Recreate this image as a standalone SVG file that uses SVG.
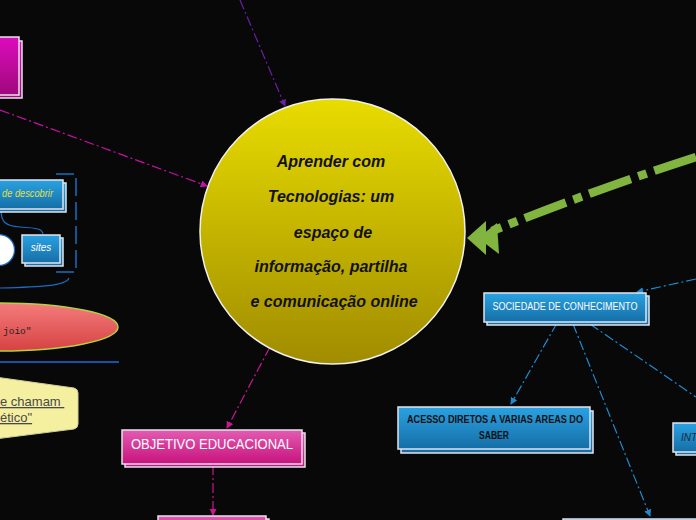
<svg xmlns="http://www.w3.org/2000/svg" width="696" height="520" viewBox="0 0 696 520">
<defs>
<linearGradient id="gYellow" x1="0" y1="0" x2="0" y2="1"><stop offset="0" stop-color="#e8dc00"/><stop offset="1" stop-color="#a08c00"/></linearGradient>
<linearGradient id="gBlue" x1="0" y1="0" x2="0" y2="1"><stop offset="0" stop-color="#2aa2e2"/><stop offset="1" stop-color="#156ea6"/></linearGradient>
<linearGradient id="gPink" x1="0" y1="0" x2="0" y2="1"><stop offset="0" stop-color="#e25cb2"/><stop offset="1" stop-color="#c8127c"/></linearGradient>
<linearGradient id="gMag" x1="0" y1="0" x2="0" y2="1"><stop offset="0" stop-color="#dc0cbc"/><stop offset="1" stop-color="#a0087c"/></linearGradient>
<linearGradient id="gRed" x1="0" y1="0" x2="0" y2="1"><stop offset="0" stop-color="#f47c7c"/><stop offset="1" stop-color="#d64242"/></linearGradient>
<marker id="aBlue" viewBox="0 0 8 8" refX="7" refY="4" markerWidth="6" markerHeight="6" orient="auto"><path d="M0,0 L8,4 L0,8 z" fill="#1e8ad0"/></marker>
<marker id="aPink" viewBox="0 0 8 8" refX="7" refY="4" markerWidth="6" markerHeight="6" orient="auto"><path d="M0,0 L8,4 L0,8 z" fill="#c81890"/></marker>
<marker id="aMag" viewBox="0 0 8 8" refX="7" refY="4" markerWidth="6" markerHeight="6" orient="auto"><path d="M0,0 L8,4 L0,8 z" fill="#c810a8"/></marker>
<marker id="aPurple" viewBox="0 0 8 8" refX="7" refY="4" markerWidth="6" markerHeight="6" orient="auto"><path d="M0,0 L8,4 L0,8 z" fill="#6a1fa8"/></marker>
</defs>
<style>
.box{stroke:#e4e4ec;stroke-width:1.5}
.dd{fill:none;stroke-width:1.2;stroke-dasharray:10 3 2 3}
.lbl{font-family:"Liberation Sans",Arial,sans-serif}
</style>
<rect x="0" y="0" width="696" height="520" fill="#080808"/>

<g id="connectors">
<path class="dd" d="M240,0 L285,106" stroke="#6a1fa8" marker-end="url(#aPurple)"/>
<path class="dd" d="M0,110 L207,186" stroke="#c810a8" marker-end="url(#aMag)"/>
<path class="dd" d="M270,347 L227,428" stroke="#c81890" marker-end="url(#aPink)"/>
<path class="dd" d="M213,465 L213,515" stroke="#c81890" marker-end="url(#aPink)"/>
<path d="M696,157 Q600,188 492,231" fill="none" stroke="#82b440" stroke-width="8.5" stroke-dasharray="44 8 9 8"/>
<polygon points="478,238 497,223 499,254" fill="#82b440"/>
<polygon points="467,238 486,221 486,255" fill="#82b440"/>
<path class="dd" d="M696,279 L637,292" stroke="#1e8ad0" marker-end="url(#aBlue)"/>
<path class="dd" d="M557,323 L511,404" stroke="#1e8ad0" marker-end="url(#aBlue)"/>
<path class="dd" d="M573,324 L650,516" stroke="#1e8ad0" marker-end="url(#aBlue)"/>
<path class="dd" d="M590,324 L696,397" stroke="#1e8ad0"/>
<path d="M1,209 C1,222 5,226 20,227 C38,228 42,229 43,234" fill="none" stroke="#1a6cc0" stroke-width="1.2"/>
<path d="M0,288 C40,287 66,286 69,278" fill="none" stroke="#1a6cc0" stroke-width="1.2"/>
<path d="M56,174 H76 V272 H56" fill="none" stroke="#1a6cc0" stroke-width="1.5" stroke-dasharray="18 6"/>
<path d="M0,362 H119" stroke="#1a6ed8" stroke-width="1.5"/>
</g>

<g id="central">
<circle cx="332.5" cy="231.5" r="132.5" fill="url(#gYellow)" stroke="#f0f0f0" stroke-width="1.5"/>
<g class="lbl" font-size="16" font-style="italic" font-weight="bold" fill="#111" text-anchor="middle">
<text x="331" y="167">Aprender com</text>
<text x="331" y="202">Tecnologias: um</text>
<text x="333" y="238">espaço de</text>
<text x="331" y="272">informação, partilha</text>
<text x="334" y="307">e comunicação online</text>
</g>
</g>

<g id="node-magenta-top">
<rect class="box" x="-5" y="41" width="27" height="57" fill="url(#gMag)"/>
<rect class="box" x="-5" y="37" width="24" height="58" fill="url(#gMag)"/>
</g>

<g id="node-descobrir">
<rect class="box" x="-5" y="183" width="71" height="29" fill="url(#gBlue)"/>
<rect class="box" x="-5" y="180" width="68" height="29" fill="url(#gBlue)"/>
<text class="lbl" x="2" y="197" font-size="10" font-style="italic" fill="#e0e040" textLength="51" lengthAdjust="spacingAndGlyphs">de descobrir</text>
</g>

<g id="node-circle-white">
<circle cx="-1" cy="250" r="15.5" fill="#ffffff" stroke="#1a6cc0" stroke-width="1.2"/>
</g>

<g id="node-sites">
<rect class="box" x="25" y="238" width="38" height="28" fill="url(#gBlue)"/>
<rect class="box" x="22" y="235" width="38" height="28" fill="url(#gBlue)"/>
<text class="lbl" x="41" y="251" font-size="10" font-style="italic" fill="#ffffff" text-anchor="middle">sites</text>
</g>

<g id="node-joio">
<ellipse cx="0" cy="327" rx="118" ry="24" fill="url(#gRed)" stroke="#b8d040" stroke-width="1.5"/>
<text x="3" y="334" font-family="'Liberation Mono','DejaVu Sans Mono',monospace" font-size="9.5" fill="#222">joio"</text>
</g>

<g id="node-callout">
<path d="M-5,377 L74,388 Q78,389 78,393 L78,424 Q78,428 74,429 L-5,439 Z" fill="#f5f0a0" stroke="#cfcf98" stroke-width="1"/>
<g class="lbl" font-size="13" fill="#4a4a4a" text-decoration="underline">
<text x="0" y="406" xml:space="preserve">e chamam </text>
<text x="0" y="422">ético"</text>
</g>
</g>

<g id="node-objetivo">
<rect class="box" x="125" y="433" width="180" height="34" fill="url(#gPink)"/>
<rect class="box" x="122" y="430" width="180" height="34" fill="url(#gPink)"/>
<text class="lbl" x="212" y="449" font-size="14" fill="#ffffff" text-anchor="middle" textLength="162" lengthAdjust="spacingAndGlyphs">OBJETIVO EDUCACIONAL</text>
</g>

<g id="node-pink-bottom">
<rect class="box" x="161" y="519" width="108" height="20" fill="url(#gPink)"/>
<rect class="box" x="158" y="516" width="108" height="20" fill="url(#gPink)"/>
</g>

<g id="node-sociedade">
<rect class="box" x="487" y="296" width="162" height="29" fill="url(#gBlue)"/>
<rect class="box" x="484" y="293" width="162" height="29" fill="url(#gBlue)"/>
<text class="lbl" x="565" y="310" font-size="10" fill="#ffffff" text-anchor="middle" textLength="145" lengthAdjust="spacingAndGlyphs">SOCIEDADE DE CONHECIMENTO</text>
</g>

<g id="node-acesso">
<rect class="box" x="401" y="411" width="192" height="42" fill="url(#gBlue)"/>
<rect class="box" x="398" y="407" width="192" height="42" fill="url(#gBlue)"/>
<g class="lbl" font-size="10" font-weight="bold" fill="#111" text-anchor="middle">
<text x="495" y="423" textLength="176" lengthAdjust="spacingAndGlyphs">ACESSO DIRETOS A VARIAS AREAS DO</text>
<text x="494" y="439" textLength="30" lengthAdjust="spacingAndGlyphs">SABER</text>
</g>
</g>

<g id="node-int">
<rect class="box" x="676" y="426" width="40" height="29" fill="url(#gBlue)"/>
<rect class="box" x="673" y="423" width="40" height="29" fill="url(#gBlue)"/>
<text class="lbl" x="681" y="441" font-size="10" font-style="italic" fill="#1a2a3a">INT</text>
</g>

<g id="node-bottom-right">
<rect class="box" x="563" y="519" width="150" height="20" fill="url(#gBlue)"/>
</g>
</svg>
